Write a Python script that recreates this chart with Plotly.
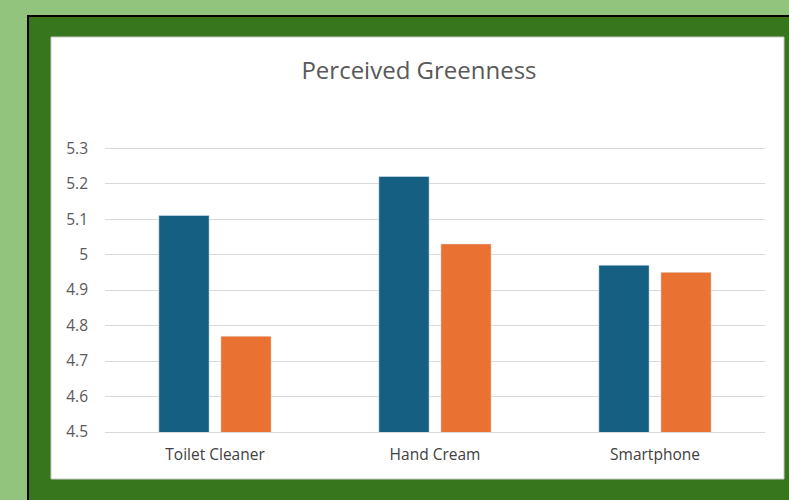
import plotly.graph_objects as go

categories = ["Toilet Cleaner", "Hand Cream", "Smartphone"]
series_a = [5.11, 5.22, 4.97]
series_b = [4.77, 5.03, 4.95]
y_ticks = [4.5, 4.6, 4.7, 4.8, 4.9, 5.0, 5.1, 5.2, 5.3]
y_tick_labels = ["4.5", "4.6", "4.7", "4.8", "4.9", "5", "5.1", "5.2", "5.3"]

W, H = 789, 500
L, R, T, B = 105, 24, 141, 68
pw, ph = W - L - R, H - T - B

def px(x):
    return (x - L) / pw

def py(y):
    return (H - B - y) / ph

fig = go.Figure()
fig.add_trace(go.Bar(x=categories, y=series_a, marker_color="#156082", name="A"))
fig.add_trace(go.Bar(x=categories, y=series_b, marker_color="#e97132", name="B"))

font = "Open Sans, Lato, sans-serif"
shapes = [
    dict(type="rect", xref="paper", yref="paper", x0=px(27), x1=px(800), y0=py(15), y1=py(510),
         fillcolor="#000000", line_width=0, layer="below"),
    dict(type="rect", xref="paper", yref="paper", x0=px(29), x1=px(800), y0=py(17), y1=py(510),
         fillcolor="#38761d", line_width=0, layer="below"),
    dict(type="rect", xref="paper", yref="paper", x0=px(51), x1=px(784), y0=py(37), y1=py(479),
         fillcolor="#ffffff", line=dict(color="#c8c8c8", width=1), layer="below"),
]

fig.update_layout(
    width=W, height=H,
    margin=dict(l=L, r=R, t=T, b=B, pad=0),
    paper_bgcolor="#93c47d",
    plot_bgcolor="rgba(0,0,0,0)",
    showlegend=False,
    barmode="group",
    bargap=0.436,
    bargroupgap=0.19,
    shapes=shapes,
    title=dict(text="Perceived Greenness", x=419 / W, xref="container", xanchor="center",
               y=1 - 71 / H, yref="container", yanchor="middle",
               font=dict(family=font, size=24, color="#595959")),
    font=dict(family=font, size=15, color="#595959"),
)
fig.update_yaxes(range=[4.5, 5.32], tickvals=y_ticks, ticktext=y_tick_labels,
                 showgrid=True, gridcolor="#d9d9d9", gridwidth=1, zeroline=False,
                 showline=False, ticklabelstandoff=16,
                 tickfont=dict(family=font, size=15.5, color="#595959"))
fig.update_xaxes(showgrid=False, showline=True, linecolor="#d9d9d9", linewidth=1,
                 ticklabelstandoff=8,
                 tickfont=dict(family=font, size=15.5, color="#404040"))

fig.write_html("out.html")
